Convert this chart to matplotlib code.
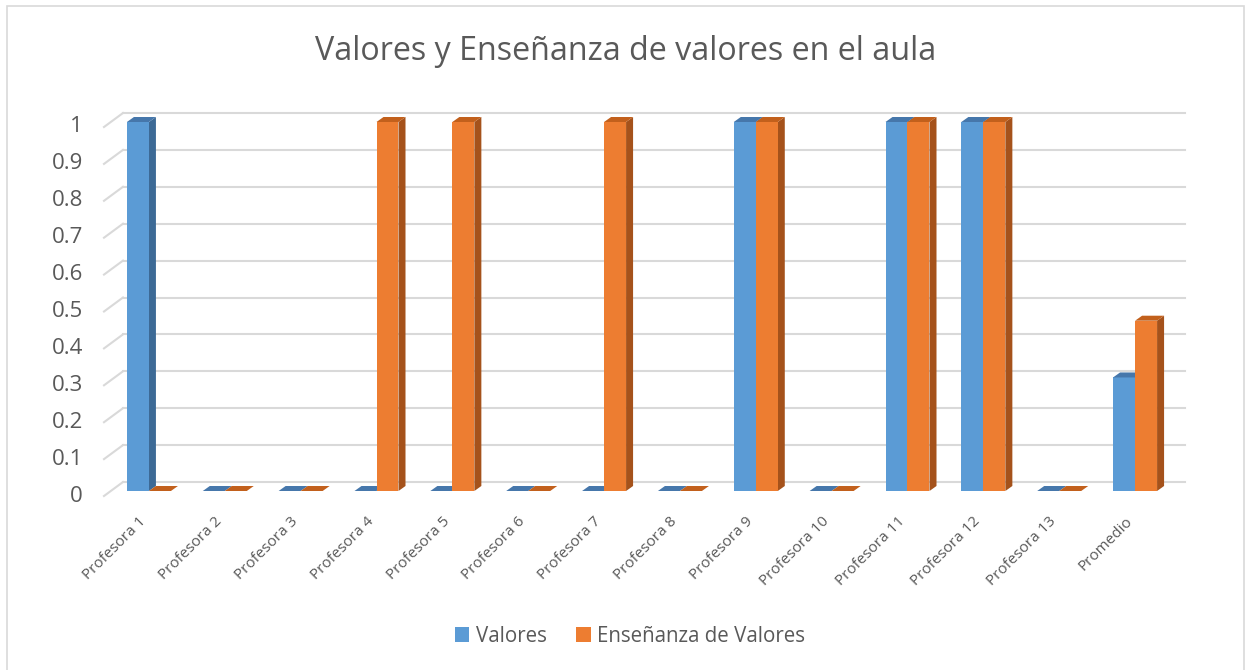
import matplotlib.pyplot as plt
from matplotlib.patches import Polygon, Rectangle
from matplotlib.lines import Line2D
import numpy as np

plt.rcParams['font.family'] = ['Open Sans', 'DejaVu Sans']

categories = ['Profesora 1', 'Profesora 2', 'Profesora 3', 'Profesora 4', 'Profesora 5',
              'Profesora 6', 'Profesora 7', 'Profesora 8', 'Profesora 9', 'Profesora 10',
              'Profesora 11', 'Profesora 12', 'Profesora 13', 'Promedio']
valores = [1, 0, 0, 0, 0, 0, 0, 0, 1, 0, 1, 1, 0, 0.3077]
ensenanza = [0, 0, 0, 1, 1, 0, 1, 0, 1, 0, 1, 1, 0, 0.4615]
yticks = [0, 0.1, 0.2, 0.3, 0.4, 0.5, 0.6, 0.7, 0.8, 0.9, 1]
series_names = ['Valores', 'Enseñanza de Valores']

# front, top, side colours per series
colors = [('#5B9BD5', '#4677AB', '#3D6A96'),
          ('#ED7D31', '#C2601C', '#A5521B')]
grid_color = '#D9D9D9'
text_color = '#595959'

W, H, DPI = 1248, 670, 100
fig = plt.figure(figsize=(W / DPI, H / DPI), dpi=DPI)

# plot plane (where bar fronts sit) in pixels
left_px, right_px, base_px, top_px = 111, 1173, 491, 122
ax = fig.add_axes([left_px / W, (H - base_px) / H,
                   (right_px - left_px) / W, (base_px - top_px) / H])
n = len(categories)
ax.set_xlim(-0.5, n - 0.5)
ax.set_ylim(0, 1)
ax.axis('off')

px_x = (n) / (right_px - left_px)   # data units per pixel, x
px_y = 1.0 / (base_px - top_px)     # data units per pixel, y


def off(dx, dy):
    return dx * px_x, dy * px_y


# back wall gridlines and left slanted edges
bx, by = off(12, 9)
fx, fy = off(-7, -5)
for v in yticks:
    ax.add_line(Line2D([-0.5 + bx, n - 0.5 + bx], [v + by, v + by],
                       color=grid_color, lw=1.5, zorder=1, clip_on=False))
    ax.add_line(Line2D([-0.5 + fx, -0.5 + bx], [v + fy, v + by],
                       color=grid_color, lw=1.5, zorder=1, clip_on=False))

# 3d-ish bars
bw = 0.29
dx, dy = off(7, 5)
x = np.arange(n)
for i in range(n):
    for s, vals in enumerate([valores, ensenanza]):
        h = vals[i]
        x0 = x[i] - bw + s * bw
        x1 = x0 + bw
        front, topc, sidec = colors[s]
        if h > 0:
            ax.add_patch(Polygon([(x1, 0), (x1 + dx, dy), (x1 + dx, h + dy), (x1, h)],
                                 closed=True, fc=sidec, ec='none', zorder=2, clip_on=False))
            ax.add_patch(Rectangle((x0, 0), bw, h, fc=front, ec='none', zorder=2, clip_on=False))
        ax.add_patch(Polygon([(x0, h), (x1, h), (x1 + dx, h + dy), (x0 + dx, h + dy)],
                             closed=True, fc=topc, ec='none', zorder=2, clip_on=False))

# y tick labels (front plane)
lx, ly = off(-28, -5)
for v in yticks:
    ax.text(-0.5 + lx, v + ly, '%g' % v, ha='right', va='center',
            fontsize=16, color=text_color)

# x labels
tx, ty = off(-5, -28)
for i, c in enumerate(categories):
    ax.text(x[i] + tx, ty, c, rotation=45, rotation_mode='anchor',
            ha='right', va='center', fontsize=11, color=text_color)

fig.text(626 / W, 1 - 51 / H, 'Valores y Enseñanza de valores en el aula',
         ha='center', va='center', fontsize=23.2, color=text_color)

# legend
handles = [Rectangle((0, 0), 1, 1, fc=colors[k][0], ec='none') for k in range(2)]
fig.legend(handles, series_names, loc='center', bbox_to_anchor=(630 / W, 1 - 636 / H),
           ncol=2, frameon=False, fontsize=14.8, labelcolor=text_color,
           handlelength=0.7, handleheight=0.7, handletextpad=0.3, columnspacing=1.45)

# chart border
fig.add_artist(Rectangle((7 / W, -0.02), (1244 - 7) / W, (H - 6) / H + 0.02,
                         transform=fig.transFigure, fill=False, ec='#D9D9D9', lw=1.2))

fig.savefig('out.png', dpi=DPI)
